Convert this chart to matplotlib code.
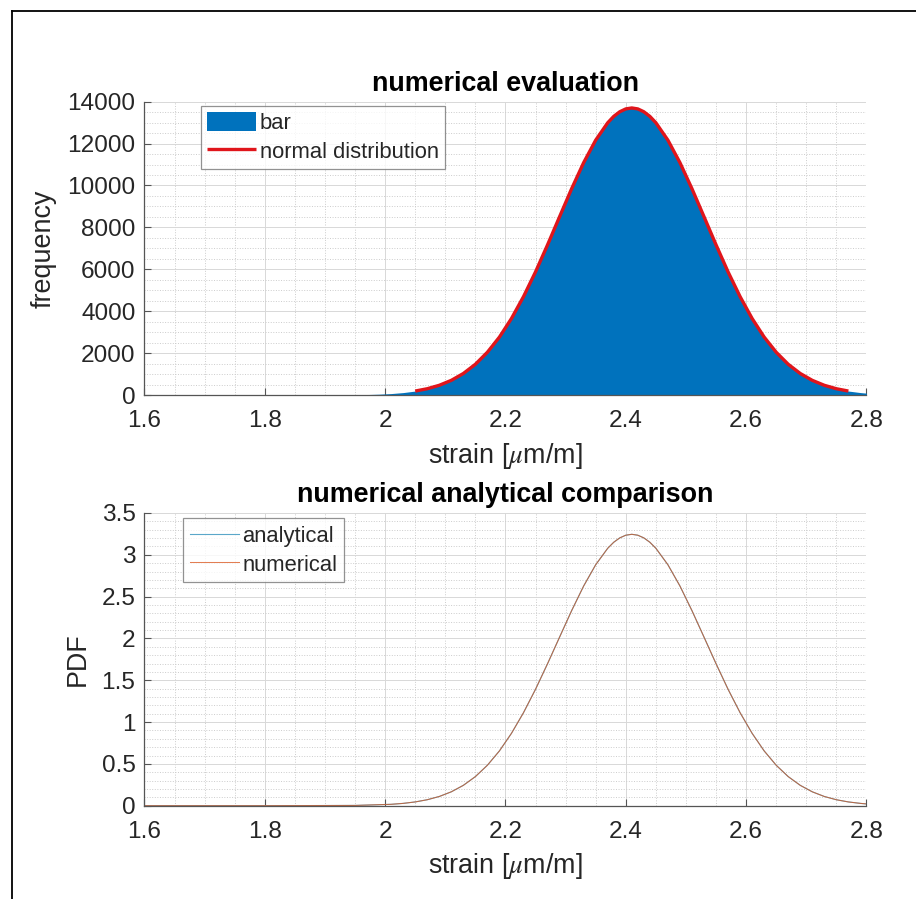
import numpy as np
import matplotlib
matplotlib.use("Agg")
import matplotlib.pyplot as plt
from matplotlib.ticker import MultipleLocator, FuncFormatter
from matplotlib.lines import Line2D

plt.rcParams['font.family'] = ['Liberation Sans', 'DejaVu Sans']
plt.rcParams['mathtext.fontset'] = 'stix'

# values
# histogram (upper panel), strain in um/m and counts per bin
strain = [1.97, 1.99, 2.01, 2.03, 2.05, 2.07, 2.09, 2.11, 2.13, 2.15, 2.17,
          2.19, 2.21, 2.23, 2.25, 2.27, 2.29, 2.31, 2.33, 2.35, 2.37, 2.38, 2.39,
          2.40, 2.41, 2.42, 2.43, 2.44, 2.45, 2.47, 2.49, 2.51, 2.53, 2.55, 2.57,
          2.59, 2.61, 2.63, 2.65, 2.67, 2.69, 2.71, 2.73, 2.75, 2.77, 2.79, 2.80]
freq = [23, 40, 69, 116, 189, 300, 464, 700, 1027, 1467, 2042,
        2765, 3652, 4695, 5877, 7169, 8512, 9846, 11091, 12164, 12995, 13299, 13519,
        13655, 13700, 13655, 13519, 13299, 12995, 12164, 11091, 9846, 8512, 7169, 5877,
        4695, 3652, 2765, 2042, 1467, 1027, 700, 464, 300, 189, 116, 90]
# the red fitted curve covers only 2.05 .. 2.77
fit_lo, fit_hi = 4, 45

# lower panel, PDF
pdf_x = [1.60, 1.80, 1.95, 2.01, 2.03, 2.05, 2.07, 2.09, 2.11, 2.13, 2.15,
         2.17, 2.19, 2.21, 2.23, 2.25, 2.27, 2.29, 2.31, 2.33, 2.35, 2.37, 2.38,
         2.39, 2.40, 2.41, 2.42, 2.43, 2.44, 2.45, 2.47, 2.49, 2.51, 2.53, 2.55,
         2.57, 2.59, 2.61, 2.63, 2.65, 2.67, 2.69, 2.71, 2.73, 2.75, 2.77, 2.79, 2.80]
pdf_analytical = [0, 0, 0.003, 0.0164, 0.0275, 0.0448, 0.0711, 0.110, 0.1658, 0.2432, 0.3475,
                  0.4836, 0.655, 0.865, 1.112, 1.392, 1.698, 2.016, 2.332, 2.627, 2.881, 3.078, 3.150,
                  3.202, 3.234, 3.245, 3.234, 3.202, 3.150, 3.078, 2.881, 2.627, 2.332, 2.016, 1.698,
                  1.392, 1.112, 0.865, 0.655, 0.4836, 0.3475, 0.2432, 0.1658, 0.110, 0.0711, 0.0448,
                  0.0275, 0.021]
# both curves lie on top of each other in the picture
pdf_numerical = list(pdf_analytical)

blue = '#0072BD'
orange = '#D95319'
txt = '#262626'
fs = 17.6

fig = plt.figure(figsize=(9.16, 8.99), dpi=100)
ax1 = fig.add_axes([0.1577, 0.5606, 0.7882, 0.3263])
ax2 = fig.add_axes([0.1577, 0.1038, 0.7882, 0.3256])

ax1.fill_between(strain, freq, color=blue, lw=0, label='bar')
ax1.plot(strain[fit_lo:fit_hi], freq[fit_lo:fit_hi], color='#E0151B', lw=2.4,
         solid_capstyle='butt', label='normal distribution')

ax2.plot(pdf_x, pdf_analytical, color='#5AA7C9', lw=0.8, label='analytical')
ax2.plot(pdf_x, pdf_numerical, color=orange, lw=0.75, alpha=0.75, label='numerical')

gfmt = FuncFormatter(lambda v, p: '%g' % round(v, 6))
for ax, ymax, ymaj, ymin in [(ax1, 14000, 2000, 500), (ax2, 3.5, 0.5, 0.1)]:
    ax.set_xlim(1.6, 2.8)
    ax.set_ylim(0, ymax)
    ax.xaxis.set_major_locator(MultipleLocator(0.2))
    ax.xaxis.set_minor_locator(MultipleLocator(0.05))
    ax.yaxis.set_major_locator(MultipleLocator(ymaj))
    ax.yaxis.set_minor_locator(MultipleLocator(ymin))
    ax.xaxis.set_major_formatter(gfmt)
    ax.yaxis.set_major_formatter(gfmt)
    ax.grid(which='major', color='#d8d8d8', lw=0.7, ls='-')
    ax.grid(which='minor', color='#cccccc', lw=0.7, ls=':')
    ax.set_axisbelow(True)
    for s in ['top', 'right']:
        ax.spines[s].set_visible(False)
    for s in ['left', 'bottom']:
        ax.spines[s].set_color('#555555')
        ax.spines[s].set_linewidth(0.9)
    ax.tick_params(which='major', direction='in', length=5, width=0.8,
                   color='#555555', labelsize=fs, labelcolor=txt)
    ax.tick_params(axis='x', which='major', pad=11)
    ax.tick_params(axis='y', which='major', pad=6.5)
    ax.tick_params(which='minor', length=0)
    ax.set_xlabel(r'strain [$\mu$m/m]', fontsize=19.4, color=txt, labelpad=6)

ax1.set_ylabel('frequency', fontsize=19.4, color=txt, labelpad=8)
ax2.set_ylabel('PDF', fontsize=19.4, color=txt, labelpad=8)
ax1.set_title('numerical evaluation', fontsize=19.4, fontweight='bold', pad=8)
ax2.set_title('numerical analytical comparison', fontsize=19.4, fontweight='bold', pad=8)

for ax in (ax1, ax2):
    leg = ax.legend(loc='upper left', fontsize=15.8, frameon=True, fancybox=False,
                    handlelength=2.25, handleheight=0.95, handletextpad=0.15,
                    borderpad=0.3, labelspacing=0.3, borderaxespad=0.45)
    leg.get_frame().set_edgecolor('#777777')
    leg.get_frame().set_linewidth(0.9)
    for t in leg.get_texts():
        t.set_color(txt)
ax1.get_legend().set_bbox_to_anchor((0.064, 1.02), transform=ax1.transAxes)
ax2.get_legend().set_bbox_to_anchor((0.04, 1.015), transform=ax2.transAxes)

# black frame around the figure (only top and left edges are inside the image)
W, H = 916, 899
fig.add_artist(Line2D([11.5 / W, 11.5 / W], [0, 1 - 11 / H], color='black', lw=1.3,
                      transform=fig.transFigure))
fig.add_artist(Line2D([11.5 / W, 1], [1 - 11 / H, 1 - 11 / H], color='black', lw=1.3,
                      transform=fig.transFigure))

fig.savefig('out.png', dpi=100, facecolor='white')
